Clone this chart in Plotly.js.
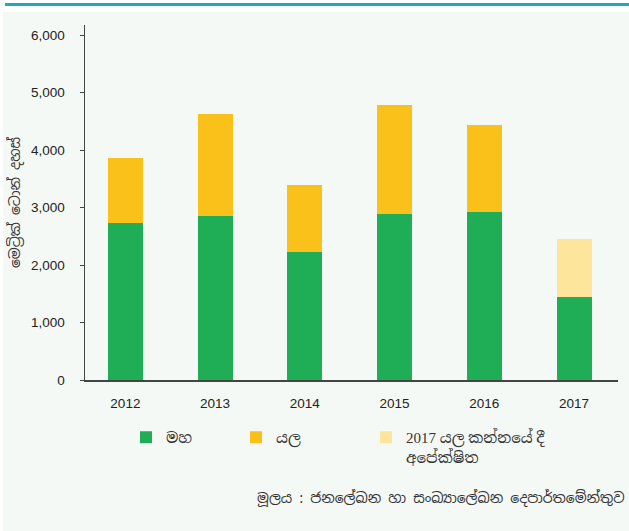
<!DOCTYPE html>
<html>
<head>
<meta charset="utf-8">
<script src="https://cdn.plot.ly/plotly-3.0.1.min.js"></script>
<style>html,body{margin:0;padding:0;background:#fff;}#chart{width:629px;height:531px;}</style>
</head>
<body>
<div id="chart"></div>
<script>
var years = ['2012', '2013', '2014', '2015', '2016', '2017'];
var maha = [2730, 2850, 2220, 2890, 2920, 1440];
var yala = [1130, 1770, 1165, 1890, 1510, null];
var yalaExpected2017 = [null, null, null, null, null, 1010];
var yTicks = [0, 1000, 2000, 3000, 4000, 5000, 6000];

var seriesNames = ['මහ', 'යල', '2017 යල කන්නයේ දී<br>අපේක්ෂිත'];
var yTitle = 'මෙට්‍රික් ටොන් දහස්';
var sourceText = 'මූලය : ජනලේඛන හා සංඛ්‍යාලේඛන දෙපාර්තමේන්තුව';

var W = 629, H = 531, L = 85, R = 11, T = 25, B = 151;
function px(x){ return (x - L) / (W - L - R); }
function py(y){ return (H - B - y) / (H - B - T); }

var sinFont = '"Noto Sans Sinhala", "Iskoola Pota", "Liberation Serif", serif';
var legFont = '"Liberation Serif", "Noto Serif Sinhala", "Noto Sans Sinhala", serif';
var tickFont = '"Liberation Sans Narrow", "Arial Narrow", "Liberation Sans", Arial, sans-serif';

var traces = [
  {type:'bar', x: years, y: maha, name: seriesNames[0], marker:{color:'#1fad55'}, legend:'legend'},
  {type:'bar', x: years, y: yala, name: seriesNames[1], marker:{color:'#f9c11a'}, legend:'legend2'},
  {type:'bar', x: years, y: yalaExpected2017, name: seriesNames[2], marker:{color:'#fde69c'}, legend:'legend3'}
];

var legendBase = {orientation:'h', bgcolor:'rgba(0,0,0,0)', font:{family:legFont, size:15, color:'#333'}, yanchor:'top', xanchor:'left', itemclick:false, valign:'top'};

var layout = {
  width: W, height: H,
  margin: {l:L, r:R, t:T, b:B, pad:0},
  paper_bgcolor: '#f5f9f6',
  plot_bgcolor: '#f5f9f6',
  barmode: 'stack',
  bargap: 0.61,
  showlegend: true,
  xaxis: {
    type:'category', range:[-0.45, 5.49], showline:true, linecolor:'#444', linewidth:2,
    ticks:'', tickfont:{family:tickFont, size:13.5, color:'#222'}, ticklabelstandoff:10,
    showgrid:false, zeroline:false, fixedrange:true
  },
  yaxis: {
    range:[0, 6174], tickvals: yTicks, tickformat:',', showline:true, linecolor:'#444', linewidth:1.5,
    ticks:'outside', ticklen:4, tickcolor:'#444', tickwidth:1, ticklabelstandoff:12,
    tickfont:{family:tickFont, size:13.5, color:'#222'},
    showgrid:false, zeroline:false, fixedrange:true,
    title:{text: yTitle, font:{family:sinFont, size:14, color:'#333'}, standoff:7}
  },
  legend: Object.assign({}, legendBase, {x: px(126), y: py(421)}),
  legend2: Object.assign({}, legendBase, {x: px(236), y: py(421)}),
  legend3: Object.assign({}, legendBase, {x: px(366), y: py(421)}),
  shapes: [
    {type:'rect', xref:'paper', yref:'paper', x0: px(0), x1: px(629), y0: py(0), y1: py(12), fillcolor:'#ffffff', line:{width:0}, layer:'below'},
    {type:'rect', xref:'paper', yref:'paper', x0: px(0), x1: px(3), y0: py(0), y1: py(531), fillcolor:'#ffffff', line:{width:0}, layer:'below'},
    {type:'line', xref:'paper', yref:'paper', x0: px(5), x1: px(629), y0: py(4.5), y1: py(4.5), line:{color:'#1aabbd', width:3}}
  ],
  annotations: [
    {xref:'paper', yref:'paper', x: px(627), y: py(498), xanchor:'right', yanchor:'middle', showarrow:false,
     text: sourceText, font:{family:sinFont, size:14, color:'#333'}}
  ]
};

Plotly.newPlot('chart', traces, layout, {displayModeBar:false, staticPlot:true});
</script>
</body>
</html>
